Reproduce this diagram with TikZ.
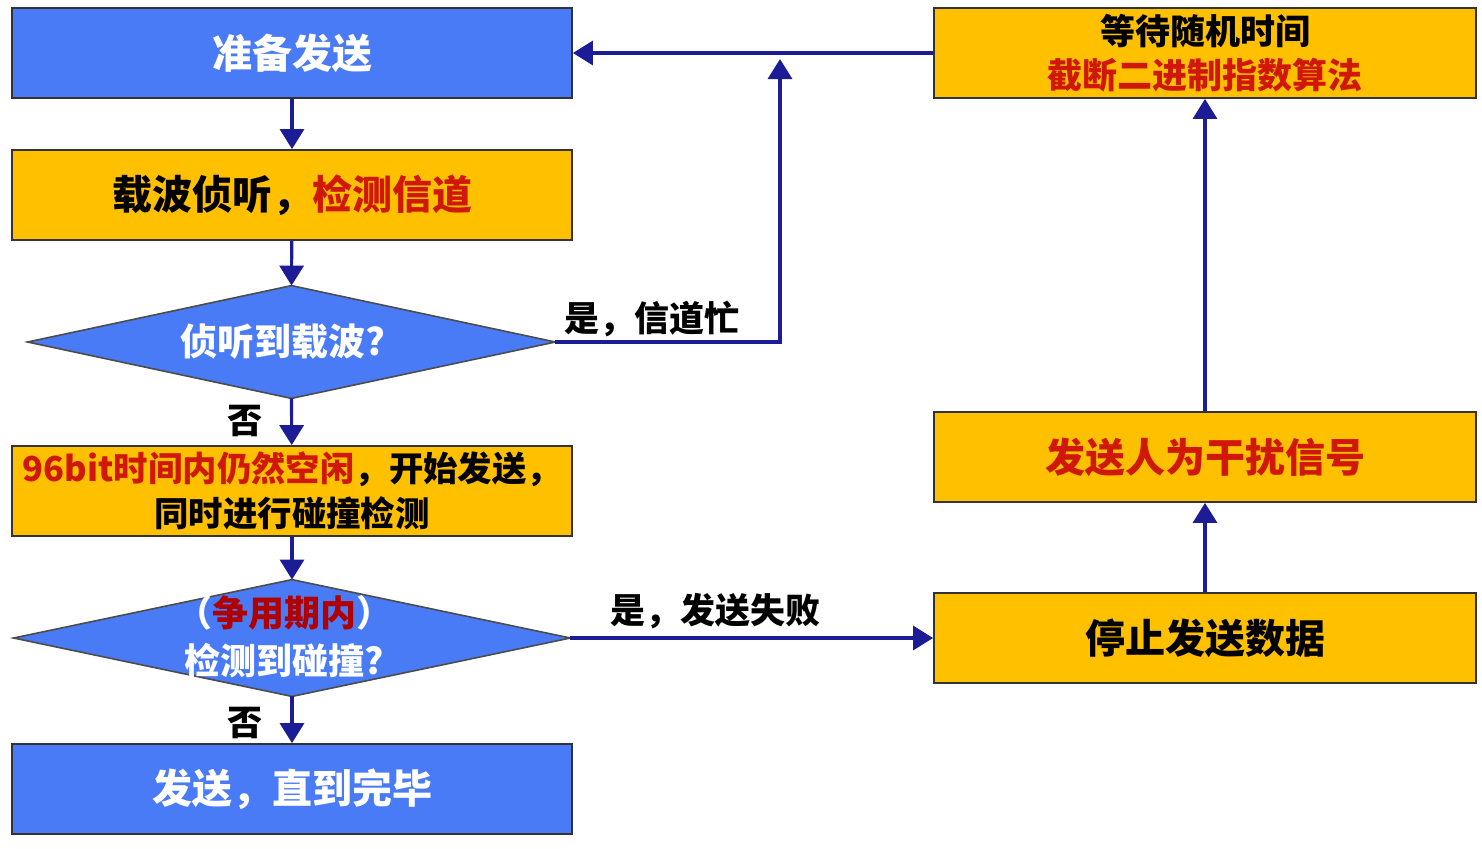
\documentclass[tikz,border=0pt]{standalone}
\usepackage{fontspec}
\setmainfont{Noto Sans CJK SC}
\usetikzlibrary{arrows.meta}
\definecolor{bblue}{HTML}{4A7BF7}
\definecolor{borange}{HTML}{FFC000}
\definecolor{navy}{HTML}{1C1C96}
\definecolor{tred}{HTML}{D01808}
\definecolor{dred}{HTML}{B00000}
\tikzset{
  box/.style={draw=black!80, line width=0.9pt, rectangle, minimum width=280pt, minimum height=45pt, inner sep=0pt, align=center, font=\bfseries\fontsize{20}{24}\selectfont},
  rbox/.style={box, minimum width=271pt},
  bluebox/.style={fill=bblue, text=white},
  orbox/.style={fill=borange, text=black},
  diaframe/.style={rectangle, inner sep=0pt},
  diafill/.style={fill=bblue, draw=black!70, line width=0.8pt},
  wtext/.style={text=white, align=center, inner sep=0pt, font=\bfseries\fontsize{17.5}{24}\selectfont},
  lbl/.style={text=black, inner sep=0pt, font=\bfseries\fontsize{17.5}{20}\selectfont},
  conn/.style={draw=navy, line width=1.6pt, -{Triangle[length=10pt,width=12pt]}}
}
\begin{document}
\begin{tikzpicture}[x=0.5pt,y=-0.5pt]
\useasboundingbox (0,0) rectangle (1482,848);
% left column
\node[box,bluebox] (prep) at (292,53) {准备发送};
\node[box,orbox] (sense) at (292,195) {载波侦听，\textcolor{tred}{检测信道}};
\node[diaframe, minimum width=263.5pt, minimum height=56pt] (d1) at (291.5,342) {};
\filldraw[diafill] (d1.west) -- (d1.north) -- (d1.east) -- (d1.south) -- cycle;
\node[wtext, font=\bfseries\fontsize{18.5}{24}\selectfont] (d1t) at (283,342) {侦听到载波?};
\node[box,orbox, font=\bfseries\fontsize{17.2}{22.5}\selectfont] (send) at (292,491) {\textcolor{tred}{96bit时间内仍然空闲}，开始发送，\\同时进行碰撞检测};
\node[diaframe, minimum width=278pt, minimum height=58pt] (d2) at (292,638) {};
\filldraw[diafill] (d2.west) -- (d2.north) -- (d2.east) -- (d2.south) -- cycle;
\node[wtext, font=\bfseries\fontsize{18}{24}\selectfont] (d2t) at (284,637) {（\textcolor{dred}{争用期内}）\\检测到碰撞?};
\node[box,bluebox] (done) at (292,789) {发送，直到完毕};
% right column
\node[rbox,orbox, font=\bfseries\fontsize{17.5}{22}\selectfont] (wait) at (1205,53) {等待随机时间\\\textcolor{tred}{截断二进制指数算法}};
\node[rbox,orbox] (jam) at (1205,457) {\textcolor{tred}{发送人为干扰信号}};
\node[rbox,orbox] (stop) at (1205,638) {停止发送数据};
% connectors
\draw[conn] (prep) -- (sense);
\draw[conn] (sense) -- (d1.north);
\draw[conn] (d1.south) -- (send);
\draw[conn] (send) -- (d2.north);
\draw[conn] (d2.south) -- (done);
\draw[conn] (wait.west) -- (prep.east);
\coordinate (busyend) at (780,59);
\draw[conn] (d1.east) -- (780,342) -- (busyend);
\draw[conn] (d2.east) -- (stop.west);
\draw[conn] (stop.north) -- (jam.south);
\draw[conn] (jam.north) -- (wait.south);
% labels
\node[lbl] (l1) at (652,319) {是，信道忙};
\node[lbl] (l2) at (715,611) {是，发送失败};
\node[lbl] (n1) at (245,421) {否};
\node[lbl] (n2) at (245,723) {否};
\end{tikzpicture}
\end{document}
